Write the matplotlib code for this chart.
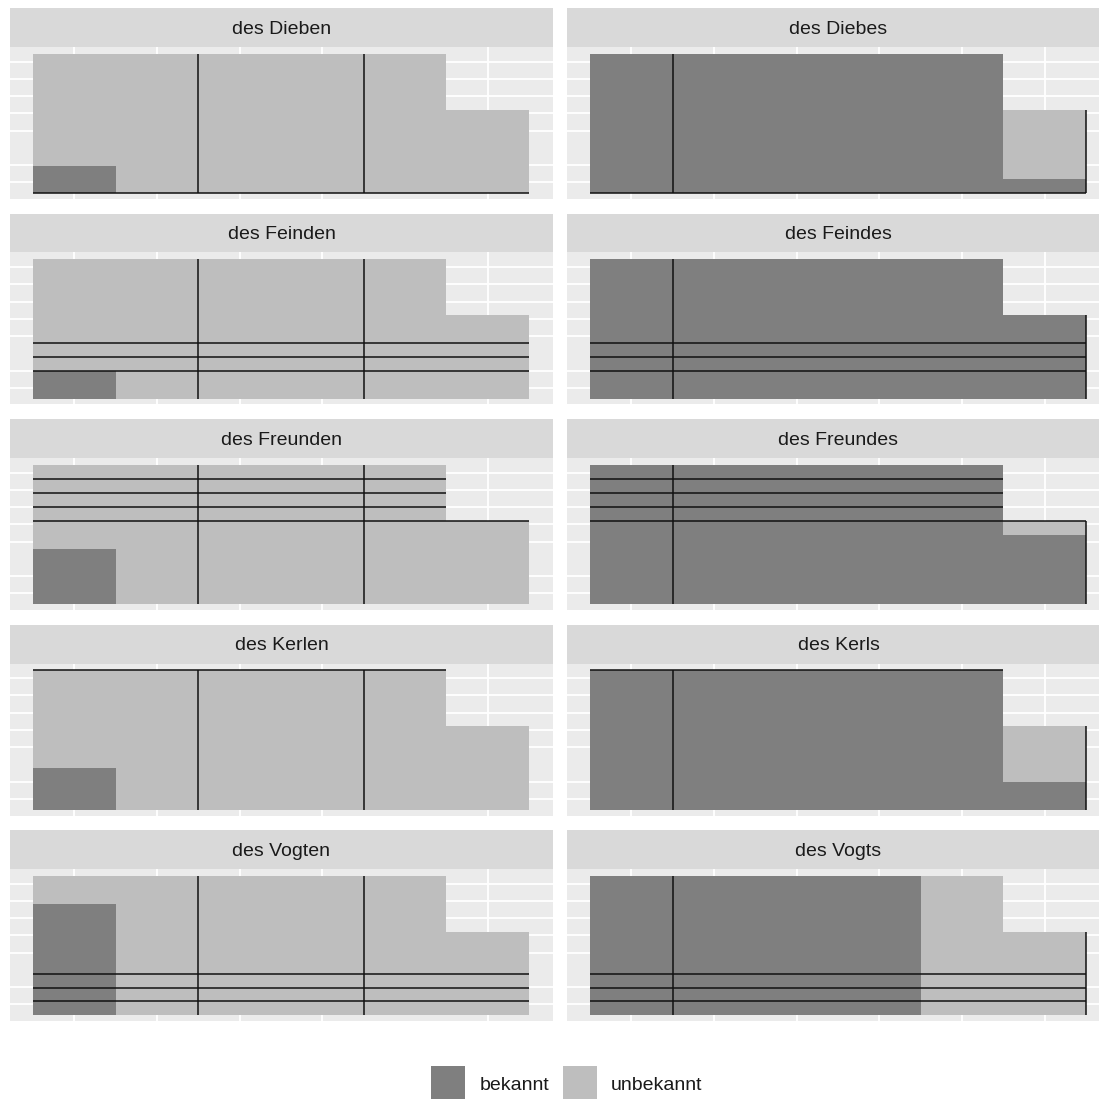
import matplotlib
matplotlib.use("Agg")
import matplotlib.pyplot as plt
from matplotlib.patches import Rectangle

plt.rcParams['font.family'] = ['Liberation Sans', 'DejaVu Sans']

# ---------------- data ----------------
panel_titles = ["des Dieben", "des Diebes", "des Feinden", "des Feindes",
                "des Freunden", "des Freundes", "des Kerlen", "des Kerls",
                "des Vogten", "des Vogts"]
positions = [1, 2, 3, 4, 5, 6]

dieben_bekannt = [0.2, 0, 0, 0, 0, 0]
dieben_unbekannt = [0.8, 1, 1, 1, 1, 0.6]
diebes_bekannt = [1, 1, 1, 1, 1, 0.1]
diebes_unbekannt = [0, 0, 0, 0, 0, 0.5]
feinden_bekannt = [0.2, 0, 0, 0, 0, 0]
feinden_unbekannt = [0.8, 1, 1, 1, 1, 0.6]
feindes_bekannt = [1, 1, 1, 1, 1, 0.6]
feindes_unbekannt = [0, 0, 0, 0, 0, 0]
freunden_bekannt = [0.4, 0, 0, 0, 0, 0]
freunden_unbekannt = [0.6, 1, 1, 1, 1, 0.6]
freundes_bekannt = [1, 1, 1, 1, 1, 0.5]
freundes_unbekannt = [0, 0, 0, 0, 0, 0.1]
kerlen_bekannt = [0.3, 0, 0, 0, 0, 0]
kerlen_unbekannt = [0.7, 1, 1, 1, 1, 0.6]
kerls_bekannt = [1, 1, 1, 1, 1, 0.2]
kerls_unbekannt = [0, 0, 0, 0, 0, 0.4]
vogten_bekannt = [0.8, 0, 0, 0, 0, 0]
vogten_unbekannt = [0.2, 1, 1, 1, 1, 0.6]
vogts_bekannt = [1, 1, 1, 1, 0, 0]
vogts_unbekannt = [0, 0, 0, 0, 1, 0.6]

# black segment lines: horizontal (y, x0, x1), vertical (x, y0, y1)
left_vlines = [(2.5, 0, 1), (4.5, 0, 1)]
right_vlines = [(1.5, 0, 1), (6.5, 0, 0.6)]
dieb_hlines = [(0, 0.5, 6.5)]
feind_hlines = [(0.2, 0.5, 6.5), (0.3, 0.5, 6.5), (0.4, 0.5, 6.5)]
freund_hlines = [(0.6, 0.5, 6.5), (0.7, 0.5, 5.5), (0.8, 0.5, 5.5), (0.9, 0.5, 5.5)]
kerl_hlines = [(1.0, 0.5, 5.5)]
vogt_hlines = [(0.1, 0.5, 6.5), (0.2, 0.5, 6.5), (0.3, 0.5, 6.5)]

legend_labels = ["bekannt", "unbekannt"]

panels = [
    (dieben_bekannt, dieben_unbekannt, dieb_hlines, left_vlines),
    (diebes_bekannt, diebes_unbekannt, dieb_hlines, right_vlines),
    (feinden_bekannt, feinden_unbekannt, feind_hlines, left_vlines),
    (feindes_bekannt, feindes_unbekannt, feind_hlines, right_vlines),
    (freunden_bekannt, freunden_unbekannt, freund_hlines, left_vlines),
    (freundes_bekannt, freundes_unbekannt, freund_hlines, right_vlines),
    (kerlen_bekannt, kerlen_unbekannt, kerl_hlines, left_vlines),
    (kerls_bekannt, kerls_unbekannt, kerl_hlines, right_vlines),
    (vogten_bekannt, vogten_unbekannt, vogt_hlines, left_vlines),
    (vogts_bekannt, vogts_unbekannt, vogt_hlines, right_vlines),
]

# ---------------- style ----------------
W = H = 1099
DPI = 100
DARK = "#7f7f7f"
LIGHT = "#bebebe"
PANEL_BG = "#ebebeb"
STRIP_BG = "#d9d9d9"
LINE = "#111111"
TXT = "#1a1a1a"

ygrid = [0.079, 0.203, 0.45, 0.574, 0.698, 0.822, 0.945]
xgrid_left = [1, 2, 3, 4, 6]
xgrid_right = [1, 2, 3, 4, 5, 6]

fig = plt.figure(figsize=(W / DPI, H / DPI), dpi=DPI)
fig.patch.set_facecolor("white")


def box(x, y, w, h):
    return [x / W, 1 - (y + h) / H, w / W, h / H]


col_x = [10, 567]
panel_w = 543
pitch = 205.5
for i, (title, (bek, unb, hl, vl)) in enumerate(zip(panel_titles, panels)):
    r, c = divmod(i, 2)
    top = 8 + r * pitch
    sax = fig.add_axes(box(col_x[c], top, panel_w, 39))
    sax.set_facecolor(STRIP_BG)
    sax.set_xticks([]); sax.set_yticks([])
    for s in sax.spines.values():
        s.set_visible(False)
    sax.text(0.5, 0.45, title, ha="center", va="center", fontsize=14,
             color=TXT, transform=sax.transAxes)

    ax = fig.add_axes(box(col_x[c], top + 39, panel_w, 152))
    ax.set_facecolor(PANEL_BG)
    for s in ax.spines.values():
        s.set_visible(False)
    ax.set_xticks([]); ax.set_yticks([])
    for g in ygrid:
        ax.axhline(g, color="white", lw=1.3, zorder=0)
    for g in (xgrid_left if c == 0 else xgrid_right):
        ax.axvline(g, color="white", lw=1.3, zorder=0)
    ax.bar(positions, bek, width=1.0, color=DARK, linewidth=0, zorder=1)
    ax.bar(positions, unb, bottom=bek, width=1.0, color=LIGHT, linewidth=0, zorder=1)
    for (y, x0, x1) in hl:
        ax.hlines(y, x0, x1, color=LINE, lw=1.1, zorder=3)
    for (x, y0, y1) in vl:
        ax.vlines(x, y0, y1, color=LINE, lw=1.1, zorder=3)
    ax.set_xlim(0.222, 6.79)
    ax.set_ylim(-0.04, 1.05)

# legend
for (x, col), lab, tx in zip([(431, DARK), (563, LIGHT)], legend_labels, [480, 611]):
    fig.patches.append(Rectangle((x / W, 1 - 1100 / H), 34 / W, 34 / H,
                                 transform=fig.transFigure, facecolor=col,
                                 edgecolor="none"))
    fig.text(tx / W, 1 - 1086 / H, lab, ha="left", va="center", fontsize=14, color=TXT)

fig.savefig("out.png", dpi=DPI)
